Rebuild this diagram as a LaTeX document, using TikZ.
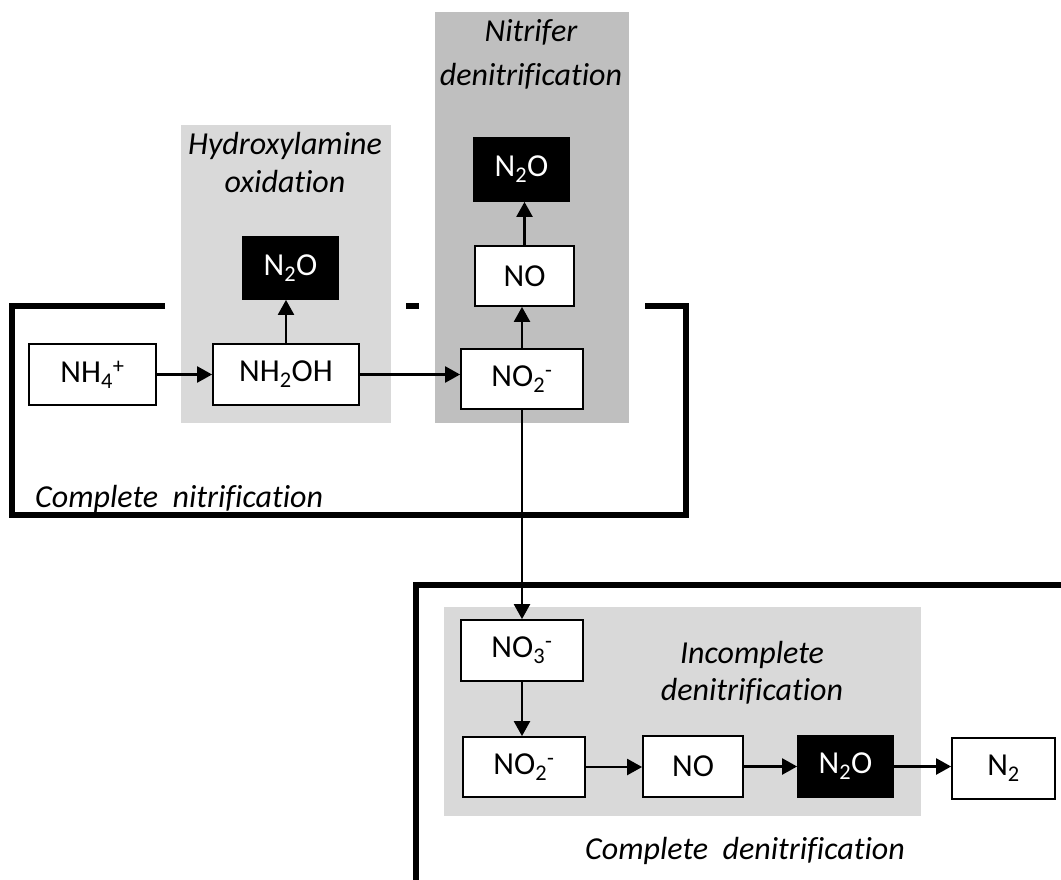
\documentclass[tikz,border=0pt]{standalone}
\usepackage{fontspec}
\setmainfont{Carlito}[Ligatures=NoCommon]
\usetikzlibrary{arrows.meta}
\definecolor{lightband}{HTML}{D9D9D9}
\definecolor{darkband}{HTML}{BFBFBF}
\begin{document}
\begin{tikzpicture}[x=1pt,y=-1pt,
  species/.style={draw=black,line width=1.8pt,fill=white,inner sep=0pt,
    font=\fontsize{32}{38}\selectfont},
  emission/.style={species,fill=black,text=white},
  flow/.style={line width=2.4pt,-{Triangle[length=15pt,width=16pt]}},
  pathframe/.style={line width=6pt},
  zone/.style={anchor=base,inner sep=0pt,font=\fontsize{32}{38}\selectfont\itshape},
]
\useasboundingbox (0,0) rectangle (1061,880);

% shaded process zones
\fill[lightband] (181,125) rectangle (391,423);
\fill[darkband]  (435,12)  rectangle (629,423);
\fill[lightband] (444,607) rectangle (921,816);

% zone captions
\node[zone] (hyd1) at (285,155) {Hydroxylamine};
\node[zone] (hyd2) at (285,193) {oxidation};
\node[zone] (nit1) at (531,42) {Nitrifer};
\node[zone] (nit2) at (531,86) {denitrification};
\node[zone] (inc1) at (752,663) {Incomplete};
\node[zone] (inc2) at (752,700) {denitrification};
\node[zone,anchor=base west] (cnit) at (35,507) {Complete\ \ nitrification};
\node[zone,anchor=base west] (cden) at (585,859) {Complete\ \ denitrification};

% outer frames
\draw[pathframe] (165,306) -- (12,306) -- (12,515) -- (686,515) -- (686,306) -- (645,306);
\draw[pathframe] (406,306) -- (419,306);
\draw[pathframe] (416,890) -- (416,584.5) -- (1070,584.5);

% nitrification chain
\node[species,minimum width=127pt,minimum height=61pt] (nh4) at (92.5,374.5) {NH\textsubscript{4}\textsuperscript{+}};
\node[species,minimum width=146pt,minimum height=61pt] (nh2oh) at (286,374.5) {NH\textsubscript{2}OH};
\node[emission,minimum width=95pt,minimum height=62pt] (n2oA) at (290.5,268) {N\textsubscript{2}O};
\node[species,minimum width=122pt,minimum height=60pt] (no2A) at (522,379) {NO\textsubscript{2}\textsuperscript{-}};
\node[species,minimum width=99pt,minimum height=60pt] (noA) at (524.5,276) {NO};
\node[emission,minimum width=95pt,minimum height=63pt] (n2oB) at (521.5,169.5) {N\textsubscript{2}O};

% denitrification chain
\node[species,minimum width=122pt,minimum height=61pt] (no3) at (522,650.5) {NO\textsubscript{3}\textsuperscript{-}};
\node[species,minimum width=122pt,minimum height=60pt] (no2B) at (524,767) {NO\textsubscript{2}\textsuperscript{-}};
\node[species,minimum width=100pt,minimum height=61pt] (noB) at (693,766.5) {NO};
\node[emission,minimum width=95pt,minimum height=61pt] (n2oC) at (845.5,766.5) {N\textsubscript{2}O};
\node[species,minimum width=103pt,minimum height=61pt] (n2) at (1003.5,768.5) {N\textsubscript{2}};

% reactions
\draw[flow] (nh4.east) -- (nh4.east -| nh2oh.west);
\draw[flow] (nh2oh.north) -- (nh2oh.north |- n2oA.south);
\draw[flow] (nh2oh.east) -- (nh2oh.east -| no2A.west);
\draw[flow] (no2A.north) -- (no2A.north |- noA.south);
\draw[flow] (noA.north) -- (noA.north |- n2oB.south);
\draw[flow] (no2A.south) -- (no2A.south |- no3.north);
\draw[flow] (no3.south) -- (no3.south |- no2B.north);
\draw[flow] (no2B.east) -- (no2B.east -| noB.west);
\draw[flow] (noB.east) -- (noB.east -| n2oC.west);
\draw[flow] (n2oC.east) -- (n2oC.east -| n2.west);
\end{tikzpicture}
\end{document}
